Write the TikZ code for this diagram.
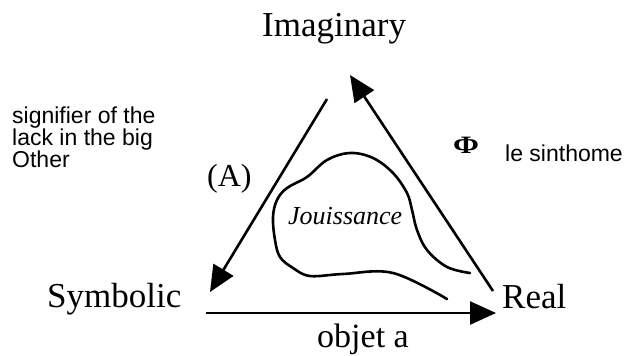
\documentclass[tikz,border=0pt]{standalone}
\usepackage{fontspec}
\setmainfont{Liberation Serif}
\setsansfont{Liberation Sans}
\usetikzlibrary{arrows.meta}

\begin{document}
\begin{tikzpicture}[x=1pt, y=-1pt,
    corner/.style={anchor=base west, inner sep=0pt, font=\fontsize{35}{40}\selectfont},
    note/.style={anchor=base west, inner sep=0pt, align=left, font=\sffamily\fontsize{23}{22}\selectfont},
    arrow/.style={-{Triangle[length=26pt, width=23pt]}, line width=2.6pt},
    blob/.style={line width=2.6pt, line cap=round}
]
\useasboundingbox (0,0) rectangle (624,356);

% the three registers
\node[corner] (imag) at (262,36) {Imaginary};
\node[corner] (symb) at (47,307) {Symbolic};
\node[corner] (real) at (502,308) {Real};
\node[corner, font=\fontsize{34}{40}\selectfont] (obja) at (317,347) {objet a};

% side labels
\node[corner, font=\fontsize{32}{36}\selectfont] (bigA) at (207,186) {(A)};
\node[corner, anchor=base, xscale=1.25, font=\bfseries\fontsize{25}{28}\selectfont] (phi) at (466,153) {Φ};
\node[note] (sinth) at (505,161) {le sinthome};
\node[note] (lack) at (12,167) {signifier of the\\lack in the big\\Other};
\node[corner, font=\itshape\fontsize{26}{30}\selectfont] (jouis) at (288,224) {Jouissance};

% ends of the connectors
\coordinate (imagL) at (327,99);
\coordinate (symbT) at (210,292);
\coordinate (realT) at (493,291);
\coordinate (imagR) at (350,75);
\coordinate (symbR) at (206,313);
\coordinate (realL) at (496,313);

\draw[arrow] (imagL) -- (symbT);
\draw[arrow] (realT) -- (imagR);
\draw[arrow] (symbR) -- (realL);

% jouissance field
\draw[blob] plot[smooth, tension=0.6] coordinates {(470,273) (447,267) (427,250) (417,230)
    (412,210) (407,193) (393,173) (373,158) (350,153) (327,160) (307,177) (287,188)
    (277,200) (273,217) (275,240) (280,257) (293,268) (310,276) (343,274) (393,273) (447,299)};

\end{tikzpicture}
\end{document}
